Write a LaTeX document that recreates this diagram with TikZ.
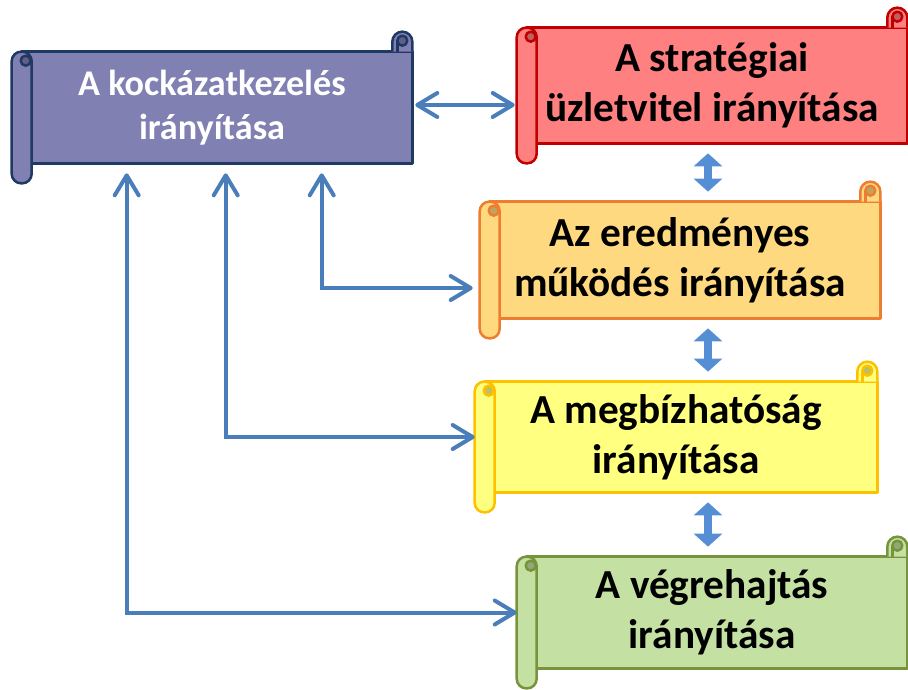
\documentclass[tikz,border=0pt]{standalone}
\usepackage{fontspec}
\setmainfont{Carlito}
\usetikzlibrary{arrows.meta,positioning,calc,backgrounds}
\definecolor{ScrollPurple}{HTML}{8080B2}
\definecolor{ScrollPurpleLine}{HTML}{1F3864}
\definecolor{ScrollRed}{HTML}{FF8080}
\definecolor{ScrollRedLine}{HTML}{C00000}
\definecolor{ScrollOrange}{HTML}{FFD980}
\definecolor{ScrollOrangeLine}{HTML}{ED7D31}
\definecolor{ScrollYellow}{HTML}{FFFF80}
\definecolor{ScrollYellowLine}{HTML}{FFC000}
\definecolor{ScrollGreen}{HTML}{C4E0A2}
\definecolor{ScrollGreenLine}{HTML}{77933C}
\definecolor{LinkBlue}{HTML}{4A7EBB}
\definecolor{FlowBlue}{HTML}{558ED5}

% scroll drawn round a node: node name, fill, line
\newcommand\scrollframe[3]{%
  \begin{scope}[on background layer]
    \filldraw[scrollline,fill=#2,draw=#3] ($(#1.north west)+(10,0)$) rectangle (#1.south east);
    \filldraw[scrollline,fill=#2,draw=#3] ($(#1.north east)+(-20,0)$) -- ++(0,-10)
      arc[start angle=180,end angle=360,radius=10] -- (#1.north east);
    \filldraw[scrollline,fill=#2!75!black,draw=#3] ($(#1.north east)+(-10,-11)$) circle[radius=5];
    \draw[scrollline,draw=#3] ($(#1.north east)+(-15,-11)$) -- ($(#1.north east)+(-15,0)$);
    \filldraw[scrollline,fill=#2,draw=#3,rounded corners=0.19cm] (#1.north west) rectangle ($(#1.south west)+(20,20)$);
    \filldraw[scrollline,fill=#2!75!black,draw=#3] ($(#1.north west)+(14,9)$) circle[radius=5];
  \end{scope}}

\begin{document}
\begin{tikzpicture}[x=0.02cm, y=-0.02cm, >={Straight Barb[length=0.4cm,width=0.48cm,round]},
  scrollline/.style={line width=0.05cm, line join=round},
  scrolltext/.style={inner sep=0pt, align=center, font=\fontsize{23.5}{28.5}\selectfont\bfseries},
  link/.style={draw=LinkBlue, line width=0.08cm, <->},
  flow/.style={draw=FlowBlue, line width=0.16cm, {Triangle[length=0.26cm,width=0.56cm]}-{Triangle[length=0.26cm,width=0.56cm]}, shorten <=0.2cm, shorten >=0.2cm}]

\useasboundingbox (0,0) rectangle (908,689);

\node[scrolltext, minimum width=8cm, minimum height=2.22cm, text=white,
  font=\fontsize{20.6}{25}\selectfont\bfseries] (risk) at (212,107.5) {A kockázatkezelés\\irányítása};
\node[scrolltext, minimum width=7.8cm, minimum height=2.3cm] (strat) at (712,85.5) {A stratégiai\\üzletvitel irányítása};
\node[scrolltext, minimum width=8cm, minimum height=2.32cm] (perf) at (680,260) {Az eredményes\\működés irányítása};
\node[scrolltext, minimum width=8.04cm, minimum height=2.2cm] (rel) at (676,437) {A megbízhatóság\\irányítása};
\node[scrolltext, minimum width=7.8cm, minimum height=2.22cm] (exec) at (712,612.5) {A végrehajtás\\irányítása};

\scrollframe{risk}{ScrollPurple}{ScrollPurpleLine}
\scrollframe{strat}{ScrollRed}{ScrollRedLine}
\scrollframe{perf}{ScrollOrange}{ScrollOrangeLine}
\scrollframe{rel}{ScrollYellow}{ScrollYellowLine}
\scrollframe{exec}{ScrollGreen}{ScrollGreenLine}

\coordinate (axis) at (708,0);

\draw[link] ($(risk.east)+(3,-2.5)$) -- ($(risk.east -| strat.west)+(-2,-2.5)$);
\draw[link] ($(risk.south west)+(310,10)$) |- ($(perf.west)+(-7,28)$);
\draw[link] ($(risk.south west)+(214,10)$) |- (rel.west);
\draw[link] ($(risk.south west)+(115,10)$) |- (exec.west);

\draw[flow] (strat.south -| axis) -- (perf.north -| axis);
\draw[flow] (perf.south -| axis) -- (rel.north -| axis);
\draw[flow] (rel.south -| axis) -- (exec.north -| axis);
\end{tikzpicture}
\end{document}
